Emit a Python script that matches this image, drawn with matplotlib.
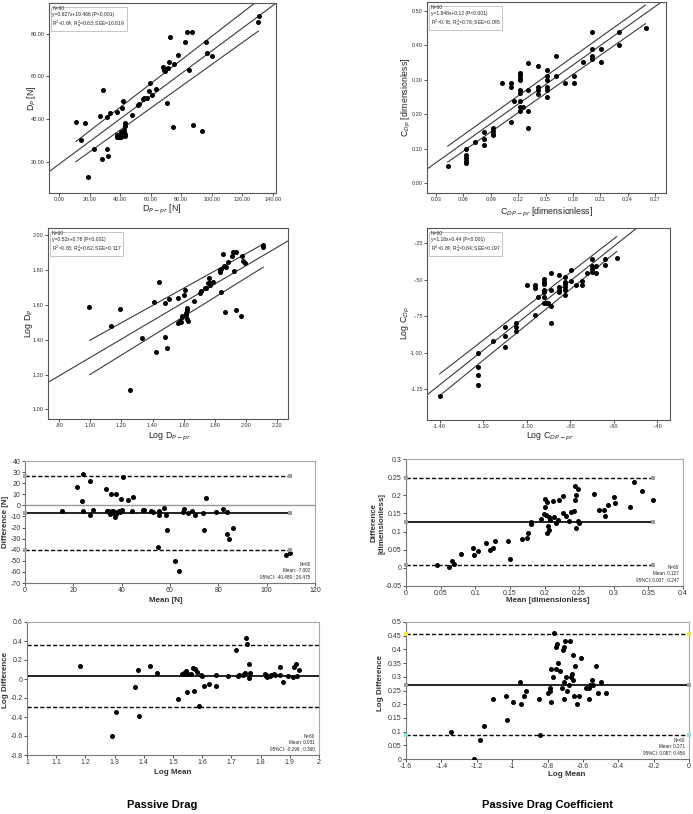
import matplotlib
matplotlib.use('Agg')
import matplotlib.pyplot as plt
import numpy as np

plt.rcParams['font.family'] = ['Liberation Sans', 'DejaVu Sans']

# ---------------- DATA ----------------
# Panel 1: D_P vs D_P-pr
p1_x = [11.1, 14.4, 16.8, 19.0, 22.7, 26.8, 27.9, 28.8, 31.2, 31.2, 31.8, 33.3, 37.7, 37.7, 38.8,
        39.4, 39.9, 40.3, 41.2, 42.0, 42.7, 43.1, 43.1, 43.4, 43.4, 48.1, 51.9, 52.3, 55.6, 57.3,
        58.8, 59.3, 60.6, 63.8, 68.2, 68.8, 69.7, 70.4, 71.2, 72.3, 72.5, 74.9, 75.2, 77.8, 82.4,
        84.1, 85.4, 87.1, 87.4, 93.7, 96.5, 96.9, 100.2, 130.5, 130.9, 40.3, 38.1, 42.7, 69.3, 55.1]
p1_y = [38.6, 30.2, 38.0, 13.0, 25.8, 41.4, 21.4, 53.75, 25.9, 41.1, 22.5, 43.0, 43.3, 31.7, 32.2,
        31.7, 33.0, 34.1, 45.0, 48.6, 34.7, 38.3, 36.7, 32.8, 32.2, 41.7, 46.4, 47.0, 49.8, 50.0,
        53.0, 56.9, 51.4, 53.9, 64.5, 63.0, 62.5, 47.5, 63.9, 66.7, 78.6, 36.25, 65.9, 70.2, 76.25,
        80.6, 62.8, 80.9, 37.3, 34.2, 76.25, 70.8, 69.4, 85.5, 88.3, 31.7, 32.5, 33.9, 63.6, 49.5]
p1_fit = ([-6.5, 141.8], [15.3, 94.2])
p1_up = ([11.1, 128.3], [29.4, 94.5])
p1_lo = ([11.1, 130.5], [20.0, 81.25])
p1_note = "N=60\ny=0.627x+19.466 (P<0.001)\nR$^2$=0.64; R$^2_a$=0.63; SEE=10.819"

# Panel 2: Log D_P vs Log D_P-pr
p2_x = [0.993, 1.132, 1.190, 1.254, 1.333, 1.410, 1.425, 1.440, 1.477, 1.479, 1.490, 1.507, 1.560,
        1.565, 1.575, 1.582, 1.586, 1.592, 1.601, 1.607, 1.614, 1.618, 1.620, 1.624, 1.629, 1.669,
        1.704, 1.710, 1.738, 1.746, 1.755, 1.761, 1.766, 1.789, 1.832, 1.834, 1.838, 1.841, 1.849,
        1.856, 1.866, 1.869, 1.884, 1.907, 1.918, 1.924, 1.933, 1.935, 1.965, 1.976, 1.978, 1.993,
        2.106, 2.108, 1.768, 1.614]
p2_y = [1.585, 1.480, 1.577, 1.109, 1.411, 1.616, 1.329, 1.728, 1.612, 1.415, 1.352, 1.633, 1.497,
        1.637, 1.509, 1.499, 1.528, 1.535, 1.654, 1.683, 1.539, 1.570, 1.583, 1.516, 1.507, 1.620,
        1.667, 1.677, 1.698, 1.696, 1.723, 1.753, 1.711, 1.732, 1.799, 1.788, 1.675, 1.807, 1.893,
        1.822, 1.558, 1.816, 1.843, 1.878, 1.902, 1.795, 1.570, 1.902, 1.533, 1.880, 1.849, 1.839,
        1.945, 1.931, 1.723, 1.550]
p2_fit = ([0.729, 2.269], [1.155, 1.966])
p2_up = ([0.997, 2.110], [1.396, 1.948])
p2_lo = ([0.997, 2.110], [1.199, 1.815])
p2_note = "N=60\ny=0.52x+0.78 (P<0.001)\nR$^2$=0.63; R$^2_a$=0.62; SEE=0.117"

# Panel 3: C_Dp vs C_DP-pr
p3_x = [0.0432, 0.0626, 0.0626, 0.0626, 0.0626, 0.0626, 0.0724, 0.0823, 0.0823, 0.0823, 0.0922,
        0.0922, 0.0922, 0.0922, 0.102, 0.112, 0.112, 0.112, 0.115, 0.122, 0.122, 0.122, 0.122,
        0.122, 0.122, 0.122, 0.122, 0.122, 0.1255, 0.131, 0.131, 0.131, 0.131, 0.1416, 0.1416,
        0.1416, 0.1416, 0.1515, 0.1515, 0.1515, 0.1515, 0.1515, 0.1515, 0.161, 0.161, 0.171,
        0.181, 0.181, 0.191, 0.201, 0.201, 0.201, 0.201, 0.211, 0.211, 0.230, 0.230, 0.2598]
p3_y = [0.049, 0.100, 0.081, 0.074, 0.066, 0.059, 0.119, 0.149, 0.129, 0.110, 0.160, 0.151, 0.144,
        0.139, 0.290, 0.290, 0.280, 0.179, 0.239, 0.321, 0.314, 0.306, 0.299, 0.271, 0.261, 0.240,
        0.221, 0.209, 0.221, 0.350, 0.270, 0.210, 0.160, 0.340, 0.280, 0.270, 0.260, 0.330, 0.310,
        0.300, 0.280, 0.270, 0.250, 0.370, 0.310, 0.290, 0.310, 0.290, 0.351, 0.440, 0.390, 0.370,
        0.360, 0.390, 0.351, 0.440, 0.400, 0.450]
p3_fit = ([0.0201, 0.277], [0.0414, 0.526])
p3_up = ([0.0428, 0.2594], [0.108, 0.517])
p3_lo = ([0.0428, 0.2594], [0.0617, 0.463])
p3_note = "N=60\ny=1.848x+0.12 (P<0.001)\nR$^2$=0.76; R$^2_a$=0.76; SEE=0.045"

# Panel 4: Log C_Dp vs Log C_DP-pr
p4_x = [-1.4, -1.224, -1.224, -1.224, -1.224, -1.157, -1.100, -1.100, -1.100, -1.048, -1.048, -1.048,
        -1.0, -0.961, -0.961, -0.961, -0.947, -0.921, -0.921, -0.921, -0.921, -0.921, -0.921, -0.921,
        -0.911, -0.902, -0.888, -0.888, -0.888, -0.888, -0.854, -0.854, -0.854, -0.854, -0.824, -0.824,
        -0.824, -0.824, -0.824, -0.824, -0.798, -0.798, -0.772, -0.747, -0.747, -0.721, -0.698, -0.698,
        -0.698, -0.698, -0.680, -0.680, -0.639, -0.639, -0.587]
p4_y = [-1.298, -1.0, -1.097, -1.154, -1.220, -0.920, -0.824, -0.886, -0.959, -0.797, -0.822, -0.854,
        -0.538, -0.538, -0.554, -0.744, -0.618, -0.497, -0.513, -0.529, -0.570, -0.586, -0.621, -0.657,
        -0.657, -0.657, -0.456, -0.570, -0.678, -0.795, -0.467, -0.552, -0.570, -0.586, -0.483, -0.513,
        -0.529, -0.552, -0.570, -0.602, -0.433, -0.511, -0.538, -0.509, -0.538, -0.456, -0.358, -0.406,
        -0.426, -0.444, -0.406, -0.456, -0.358, -0.399, -0.348]
p4_fit = ([-1.458, -0.490], [-1.291, -0.140])
p4_up = ([-1.4, -0.587], [-1.147, -0.204])
p4_lo = ([-1.4, -0.587], [-1.296, -0.307])
p4_note = "N=60\ny=1.18x+0.44 (P<0.001)\nR$^2$=0.84; R$^2_a$=0.84; SEE=0.097"

# Panel 5: Bland-Altman, passive drag
p5_x = [15.3, 21.7, 23.5, 23.9, 24.2, 26.7, 26.7, 28.1, 33.6, 33.8, 34.7, 35.2, 35.5, 35.8, 36.6, 37.1,
        37.6, 37.7, 38.2, 39.3, 39.9, 40.2, 40.7, 42.5, 44.6, 44.4, 48.7, 49.2, 52.0, 53.1, 55.2, 55.4,
        55.6, 57.5, 58.3, 58.6, 62.0, 63.7, 65.5, 65.9, 67.4, 69.2, 70.3, 73.5, 73.9, 75.1, 79.0, 82.0,
        83.6, 83.6, 84.5, 86.1, 107.8, 109.5, 36.3, 36.0, 38.7, 34.4]
p5_y = [-5.1, 16.5, 4.2, 28.5, -5.4, 22.2, -8.7, -4.2, 15.0, -5.1, -5.7, -7.5, 10.5, -4.8, -5.4, -10.2,
        10.5, -8.1, -6.0, -6.3, 6.0, -4.2, 25.5, 4.5, 7.2, -5.1, -4.2, -4.2, -5.1, -6.0, -37.8, -5.1,
        -8.4, -2.1, -8.7, -22.2, -49.8, -58.9, -6.3, -3.6, -6.6, -5.1, -8.4, -7.2, -22.2, 6.6, -5.7,
        -3.3, -25.8, -5.7, -30.3, -20.1, -44.7, -42.6, -5.7, -6.6, -5.1, -5.1]
p5_stats = (-7.002, -40.489, 26.475)
p5_span = (0, 109.5)
p5_note = "N=60\nMean: -7.002\n95%CI: -40.489 ; 26.475"

# Panel 6: Bland-Altman, drag coefficient
p6_x = [0.045, 0.062, 0.067, 0.069, 0.080, 0.097, 0.098, 0.104, 0.115, 0.122, 0.125, 0.129, 0.148, 0.150,
        0.168, 0.175, 0.176, 0.180, 0.181, 0.195, 0.199, 0.200, 0.200, 0.202, 0.203, 0.204, 0.205, 0.207,
        0.207, 0.208, 0.212, 0.213, 0.216, 0.220, 0.221, 0.226, 0.227, 0.231, 0.236, 0.238, 0.242, 0.244,
        0.244, 0.245, 0.245, 0.248, 0.249, 0.250, 0.272, 0.279, 0.286, 0.288, 0.291, 0.300, 0.302, 0.324,
        0.329, 0.341, 0.356]
p6_y = [0.009, 0.002, 0.019, 0.010, 0.038, 0.055, 0.036, 0.046, 0.069, 0.048, 0.056, 0.075, 0.073, 0.024,
        0.080, 0.081, 0.095, 0.121, 0.127, 0.134, 0.149, 0.189, 0.169, 0.146, 0.097, 0.181, 0.114, 0.139,
        0.103, 0.132, 0.184, 0.139, 0.123, 0.131, 0.186, 0.152, 0.197, 0.143, 0.128, 0.154, 0.157, 0.225,
        0.187, 0.201, 0.109, 0.217, 0.130, 0.123, 0.204, 0.159, 0.159, 0.142, 0.172, 0.195, 0.178, 0.167,
        0.237, 0.212, 0.187]
p6_stats = (0.127, 0.007, 0.247)
p6_span = (0, 0.356)
p6_note = "N=60\nMean: 0.127\n95%CI: 0.007 ; 0.247"

# Panel 7: Bland-Altman (log), passive drag
p7_x = [1.181, 1.292, 1.306, 1.370, 1.380, 1.385, 1.421, 1.446, 1.517, 1.532, 1.541, 1.544, 1.547, 1.550,
        1.560, 1.569, 1.572, 1.575, 1.581, 1.588, 1.596, 1.600, 1.606, 1.624, 1.646, 1.646, 1.690, 1.715,
        1.721, 1.727, 1.740, 1.746, 1.751, 1.754, 1.760, 1.761, 1.765, 1.814, 1.817, 1.823, 1.831, 1.837,
        1.846, 1.866, 1.866, 1.875, 1.895, 1.911, 1.915, 1.920, 1.926, 1.931, 1.848, 1.744, 1.820, 1.539]
p7_y = [0.140, -0.600, -0.351, -0.084, 0.098, -0.393, 0.140, 0.067, -0.214, 0.053, 0.056, 0.081, -0.133,
        0.053, 0.056, 0.116, -0.126, 0.102, 0.074, -0.288, 0.042, 0.032, -0.074, -0.053, 0.046, -0.074,
        0.032, 0.309, 0.035, 0.046, 0.039, 0.067, 0.435, 0.365, 0.014, 0.158, 0.067, 0.049, 0.032, 0.021,
        0.032, 0.039, 0.049, 0.126, 0.046, -0.035, 0.032, 0.018, 0.123, 0.154, 0.032, 0.098, 0.039, 0.056,
        0.039, 0.063]
p7_stats = (0.031, -0.298, 0.360)
p7_span = (1.0, 2.0)
p7_note = "N=60\nMean: 0.031\n95%CI: -0.298 ; 0.360"

# Panel 8: Bland-Altman (log), drag coefficient
p8_x = [-1.348, -1.215, -1.181, -1.158, -1.106, -1.034, -1.029, -0.993, -0.957, -0.948, -0.933, -0.921,
        -0.846, -0.841, -0.797, -0.788, -0.784, -0.782, -0.780, -0.767, -0.765, -0.752, -0.750, -0.747,
        -0.741, -0.728, -0.717, -0.715, -0.709, -0.709, -0.705, -0.700, -0.696, -0.692, -0.681, -0.673,
        -0.666, -0.662, -0.658, -0.655, -0.649, -0.645, -0.636, -0.623, -0.613, -0.585, -0.568, -0.564,
        -0.561, -0.551, -0.540, -0.527, -0.517, -0.498, -0.467]
p8_y = [0.100, 0.000, 0.071, 0.119, 0.219, 0.230, 0.141, 0.209, 0.280, 0.200, 0.230, 0.249, 0.219, 0.089,
        0.240, 0.259, 0.249, 0.328, 0.209, 0.299, 0.460, 0.328, 0.409, 0.420, 0.349, 0.320, 0.259, 0.399,
        0.410, 0.219, 0.280, 0.429, 0.299, 0.249, 0.270, 0.429, 0.299, 0.309, 0.380, 0.290, 0.230, 0.339,
        0.200, 0.230, 0.369, 0.259, 0.219, 0.259, 0.270, 0.290, 0.270, 0.339, 0.240, 0.280, 0.240]
p8_stats = (0.271, 0.087, 0.456)
p8_span = (-1.6, 0.0)
p8_note = "N=60\nMean: 0.271\n95%CI: 0.087; 0.456"

titles = ["Passive Drag", "Passive Drag Coefficient"]

# ---------------- FIGURE ----------------
W, H = 693, 814
fig = plt.figure(figsize=(W / 100, H / 100), dpi=100)


def ax_px(l, t, r, b):
    return fig.add_axes([l / W, 1 - b / H, (r - l) / W, (b - t) / H])


def ftext(x, y, s, **kw):
    fig.text(x / W, 1 - y / H, s, **kw)


def spss(box, x, y, fit, up, lo, xlim, ylim, xticks, xtl, yticks, ytl, note,
         xlabel, xlpos, ylabel, ylpos):
    ax = ax_px(*box)
    for (lx, ly) in (fit, up, lo):
        ax.plot(lx, ly, color='#3a3a3a', lw=0.8, zorder=2)
    ax.scatter(x, y, s=13, c='black', linewidths=0, zorder=3)
    ax.set_xlim(*xlim)
    ax.set_ylim(*ylim)
    ax.set_xticks(xticks)
    ax.set_xticklabels(xtl)
    ax.set_yticks(yticks)
    ax.set_yticklabels(ytl)
    ax.tick_params(direction='out', length=2, width=0.6, labelsize=4, colors='#333333', pad=1)
    for s in ax.spines.values():
        s.set_color('#555555')
        s.set_linewidth(0.8)
    ax.text(0.015, 0.985, note, transform=ax.transAxes, fontsize=3.6, va='top', ha='left',
            linespacing=1.25, color='#222222',
            bbox=dict(facecolor='white', edgecolor='#999999', lw=0.4, pad=1.2))
    ftext(*xlpos, xlabel, fontsize=6.3, ha='center', va='center', color='#222222')
    ftext(*ylpos, ylabel, fontsize=6.3, ha='center', va='center', rotation=90, color='#222222')
    return ax


def excel(box, x, y, stats, span, xlim, ylim, xticks, xtl, yticks, ytl, note,
          xlabel, xlpos, ylabel, ylpos, end_colors, zero_line=False):
    ax = ax_px(*box)
    mean, lo, hi = stats
    if zero_line:
        ax.axhline(0, color='#9a9a9a', lw=1.0, zorder=1)
    ax.plot(span, [hi, hi], color='black', lw=1.0, ls=(0, (3, 1.6)), zorder=2)
    ax.plot(span, [lo, lo], color='black', lw=1.0, ls=(0, (3, 1.6)), zorder=2)
    ax.plot(span, [mean, mean], color='#222222', lw=1.4, zorder=2)
    for val, col in zip((hi, mean, lo), end_colors):
        if col is not None:
            ax.scatter(span, [val, val], marker='s', s=7, c=col, linewidths=0, zorder=4,
                       clip_on=False)
    ax.scatter(x, y, s=13, c='black', linewidths=0, zorder=3)
    ax.set_xlim(*xlim)
    ax.set_ylim(*ylim)
    ax.set_xticks(xticks)
    ax.set_xticklabels(xtl)
    ax.set_yticks(yticks)
    ax.set_yticklabels(ytl)
    ax.tick_params(direction='out', length=2, width=0.6, labelsize=5.0, colors='#333333', pad=1.2)
    for s in ax.spines.values():
        s.set_color('#a8a8a8')
        s.set_linewidth(0.8)
    ax.spines['left'].set_color('#777777')
    ax.spines['bottom'].set_color('#777777')
    ax.text(0.985, 0.03, note, transform=ax.transAxes, fontsize=3.3, va='bottom', ha='right',
            linespacing=1.25, color='#222222')
    ftext(*xlpos, xlabel, fontsize=5.8, ha='center', va='center', fontweight='bold', color='#333333')
    ftext(*ylpos, ylabel, fontsize=5.8, ha='center', va='center', rotation=90,
          fontweight='bold', color='#333333', linespacing=1.1)
    return ax


# Panel 1
spss((49, 3, 276, 193), p1_x, p1_y, p1_fit, p1_up, p1_lo, (-6.5, 142), (5.3, 94.4),
     np.arange(0, 141, 20), ['%.2f' % v for v in np.arange(0, 141, 20)],
     [20, 40, 60, 80], ['20.00', '40.00', '60.00', '80.00'], p1_note,
     r'D$_{P-pr}$ [N]', (162, 209), r'D$_P$ [N]', (31, 98))

# Panel 2
spss((48, 228, 288, 419), p2_x, p2_y, p2_fit, p2_up, p2_lo, (0.729, 2.269), (0.945, 2.04),
     [0.8, 1.0, 1.2, 1.4, 1.6, 1.8, 2.0, 2.2], ['.80', '1.00', '1.20', '1.40', '1.60', '1.80', '2.00', '2.20'],
     [1.0, 1.2, 1.4, 1.6, 1.8, 2.0], ['1.00', '1.20', '1.40', '1.60', '1.80', '2.00'], p2_note,
     r'Log D$_{P-pr}$', (170, 437), r'Log D$_P$', (29, 323))

# Panel 3
spss((427, 2, 666, 193), p3_x, p3_y, p3_fit, p3_up, p3_lo, (0.0201, 0.282), (-0.028, 0.526),
     [0.03, 0.06, 0.09, 0.12, 0.15, 0.18, 0.21, 0.24, 0.27],
     ['0.03', '0.06', '0.09', '0.12', '0.15', '0.18', '0.21', '0.24', '0.27'],
     [0.0, 0.1, 0.2, 0.3, 0.4, 0.5], ['0.00', '0.10', '0.20', '0.30', '0.40', '0.50'], p3_note,
     r'C$_{DP-pr}$ [dimensionless]', (547, 212), r'C$_{Dp}$ [dimensionless]', (406, 97))

# Panel 4
spss((427, 228, 670, 420), p4_x, p4_y, p4_fit, p4_up, p4_lo, (-1.458, -0.342), (-1.463, -0.145),
     [-1.4, -1.2, -1.0, -0.8, -0.6, -0.4], ['-1.40', '-1.20', '-1.00', '-.80', '-.60', '-.40'],
     [-1.25, -1.0, -0.75, -0.5, -0.25], ['-1.25', '-1.00', '-.75', '-.50', '-.25'], p4_note,
     r'Log C$_{DP-pr}$', (550, 437), r'Log C$_{Dp}$', (406, 323))

# Panel 5
excel((25, 461, 315, 583), p5_x, p5_y, p5_stats, p5_span, (0, 120), (-70, 40),
      np.arange(0, 121, 20), [str(v) for v in range(0, 121, 20)],
      np.arange(-70, 41, 10), [str(v) for v in range(-70, 41, 10)], p5_note,
      'Mean [N]', (166, 600), 'Difference [N]', (6, 522),
      ('#a0a0a0', '#a0a0a0', '#a0a0a0'), zero_line=True)

# Panel 6
excel((406, 459, 683, 586), p6_x, p6_y, p6_stats, p6_span, (0, 0.4), (-0.05, 0.3),
      [0, 0.05, 0.1, 0.15, 0.2, 0.25, 0.3, 0.35, 0.4],
      ['0', '0.05', '0.1', '0.15', '0.2', '0.25', '0.3', '0.35', '0.4'],
      [-0.05, 0, 0.05, 0.1, 0.15, 0.2, 0.25, 0.3],
      ['-0.05', '0', '0.05', '0.1', '0.15', '0.2', '0.25', '0.3'], p6_note,
      'Mean [dimensionless]', (548, 601), 'Difference\n[dimensionless]', (378, 523),
      ('#a0a0a0', '#a0a0a0', '#a0a0a0'))

# Panel 7
excel((27, 622, 319, 755), p7_x, p7_y, p7_stats, p7_span, (1, 2), (-0.8, 0.6),
      [1, 1.1, 1.2, 1.3, 1.4, 1.5, 1.6, 1.7, 1.8, 1.9, 2],
      ['1', '1.1', '1.2', '1.3', '1.4', '1.5', '1.6', '1.7', '1.8', '1.9', '2'],
      [-0.8, -0.6, -0.4, -0.2, 0, 0.2, 0.4, 0.6],
      ['-0.8', '-0.6', '-0.4', '-0.2', '0', '0.2', '0.4', '0.6'], p7_note,
      'Log Mean', (173, 773), 'Log Difference', (6, 680),
      (None, None, None))

# Panel 8
excel((406, 622, 689, 759), p8_x, p8_y, p8_stats, p8_span, (-1.6, 0), (0, 0.5),
      [-1.6, -1.4, -1.2, -1.0, -0.8, -0.6, -0.4, -0.2, 0],
      ['-1.6', '-1.4', '-1.2', '-1', '-0.8', '-0.6', '-0.4', '-0.2', '0'],
      [0, 0.05, 0.1, 0.15, 0.2, 0.25, 0.3, 0.35, 0.4, 0.45, 0.5],
      ['0', '0.05', '0.1', '0.15', '0.2', '0.25', '0.3', '0.35', '0.4', '0.45', '0.5'], p8_note,
      'Log Mean', (567, 775), 'Log Difference', (380, 683),
      ('#f2e640', '#a0a0a0', '#8fe0e6'))

ftext(162, 805, titles[0], fontsize=8, fontweight='bold', ha='center', va='center')
ftext(547, 805, titles[1], fontsize=8, fontweight='bold', ha='center', va='center')

fig.savefig('out.png', dpi=100)
